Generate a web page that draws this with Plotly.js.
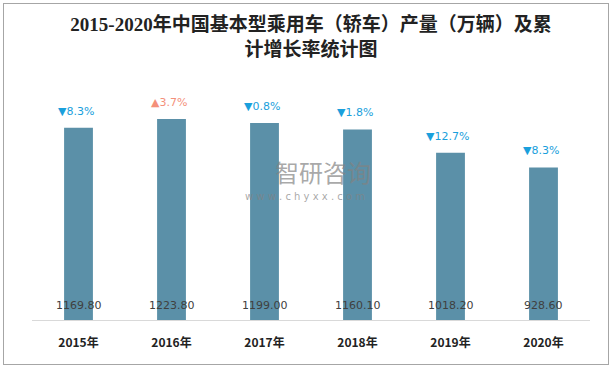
<!DOCTYPE html>
<html><head><meta charset="utf-8">
<script src="https://cdn.plot.ly/plotly-3.0.1.min.js"></script>
<style>
html,body{margin:0;padding:0;background:#fff;}
#wrap{position:relative;width:615px;height:369px;}
#chart{position:absolute;left:0;top:0;width:615px;height:369px;}
#frame{position:absolute;left:3px;top:3px;width:604px;height:360px;border:1px solid #a6a6a6;pointer-events:none;}
</style></head>
<body><div id="wrap"><div id="chart"></div><div id="frame"></div></div>
<script>
const years = ['2015年','2016年','2017年','2018年','2019年','2020年'];
const output = [1169.80, 1223.80, 1199.00, 1160.10, 1018.20, 928.60];
const growth = [-8.3, 3.7, -0.8, -1.8, -12.7, -8.3];

const annotations = [];
years.forEach((y, i) => {
  annotations.push({x: y, y: 0, text: output[i].toFixed(2), showarrow: false,
    yanchor: 'bottom', yshift: 6, font: {family: 'DejaVu Sans, Verdana, sans-serif', size: 11, color: '#404040'}});
  const up = growth[i] >= 0;
  annotations.push({x: y, y: output[i], text: (up ? '▲' : '▼') + Math.abs(growth[i]).toFixed(1) + '%',
    showarrow: false, yanchor: 'bottom', yshift: 8, xshift: -3,
    font: {family: 'DejaVu Sans, Verdana, sans-serif', size: 11, color: up ? '#f4907a' : '#1aa0dc'}});
});
annotations.push({xref: 'paper', yref: 'paper', x: 0.521, y: 0.645, text: '智研咨询', showarrow: false,
  font: {family: 'Noto Sans CJK SC', size: 24, color: 'rgba(130,130,130,0.7)'}});
annotations.push({xref: 'paper', yref: 'paper', x: 0.49, y: 0.535, text: 'w w w . c h y x x . c o m', showarrow: false,
  font: {family: 'DejaVu Sans, sans-serif', size: 10, color: 'rgba(130,130,130,0.7)'}});

const data = [{
  type: 'bar', x: years, y: output, width: 0.31,
  marker: {color: '#5b90a8'}, hoverinfo: 'skip', cliponaxis: false
}];

const layout = {
  width: 615, height: 369,
  margin: {l: 32, r: 25, t: 90, b: 49},
  paper_bgcolor: '#fff', plot_bgcolor: '#fff',
  showlegend: false,
  title: {text: '<b>2015-2020年中国基本型乘用车（轿车）产量（万辆）及累<br>计增长率统计图</b>',
    x: 0.5, xanchor: 'center', xref: 'paper', yref: 'container', y: 0.915, yanchor: 'top',
    font: {family: 'Liberation Serif, Noto Sans CJK SC, serif', size: 19, color: '#222'}},
  xaxis: {type: 'category', showline: true, linecolor: '#d9d9d9', linewidth: 1,
    ticks: '', showgrid: false, zeroline: false, ticklabelstandoff: 12,
    tickfont: {family: 'Noto Sans CJK SC, sans-serif', size: 12, color: '#222', weight: 'bold'}},
  yaxis: {range: [0, 1400], visible: false, showgrid: false, zeroline: false},
  annotations: annotations
};
Plotly.newPlot('chart', data, layout, {displayModeBar: false, staticPlot: true});
</script></body></html>
